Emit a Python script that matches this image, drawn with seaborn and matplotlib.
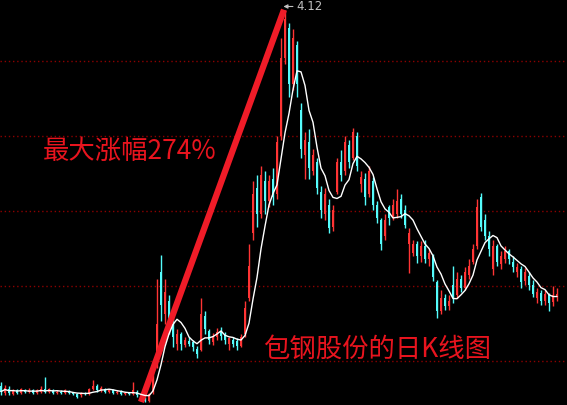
import numpy as np
import pandas as pd
import matplotlib
matplotlib.use('Agg')
import matplotlib.pyplot as plt
import seaborn as sns

# gaya gelap seperti software saham
sns.set_style('dark', {'axes.facecolor': 'black', 'figure.facecolor': 'black'})
plt.rcParams['font.family'] = ['Noto Sans CJK SC', 'DejaVu Sans']

# data K-line (harga harian)
opens = [1.22, 1.17, 1.20, 1.16, 1.19, 1.17, 1.19, 1.18, 1.19, 1.17,
         1.18, 1.20, 1.18, 1.19, 1.17, 1.18, 1.17, 1.18, 1.17, 1.16,
         1.15, 1.17, 1.16, 1.20, 1.22, 1.19, 1.20, 1.18, 1.19, 1.17,
         1.18, 1.16, 1.17, 1.16, 1.18, 1.14, 1.12, 1.11, 1.18, 1.38,
         2.10, 1.78, 1.88, 1.70, 1.55, 1.62, 1.54, 1.57, 1.56, 1.51,
         1.50, 1.76, 1.65, 1.56, 1.60, 1.64, 1.62, 1.55, 1.58, 1.57,
         1.53, 1.62, 1.90, 2.40, 2.75, 2.55, 2.80, 2.65, 2.82, 2.70,
         3.15, 3.75, 3.98, 3.55, 3.85, 3.35, 3.00, 3.10, 2.88, 2.95,
         2.72, 2.55, 2.62, 2.45, 2.72, 2.95, 2.88, 3.08, 2.98, 3.15,
         2.78, 2.82, 2.70, 2.80, 2.62, 2.50, 2.38, 2.60, 2.52, 2.55,
         2.66, 2.58, 2.32, 2.25, 2.32, 2.22, 2.30, 2.20, 2.22, 2.02,
         1.80, 1.90, 1.84, 2.00, 1.92, 2.05, 1.98, 2.08, 2.18, 2.30,
         2.68, 2.50, 2.38, 2.12, 2.30, 2.16, 2.20, 2.26, 2.18, 2.10,
         2.12, 2.03, 2.07, 2.00, 1.90, 1.94, 1.88, 1.92, 1.87, 1.91]
closes = [1.18, 1.21, 1.17, 1.19, 1.17, 1.20, 1.18, 1.19, 1.17, 1.19,
          1.20, 1.18, 1.20, 1.17, 1.18, 1.17, 1.19, 1.17, 1.16, 1.14,
          1.17, 1.16, 1.20, 1.22, 1.19, 1.21, 1.18, 1.19, 1.17, 1.18,
          1.16, 1.17, 1.16, 1.19, 1.15, 1.12, 1.11, 1.16, 1.38, 1.70,
          1.85, 1.95, 1.70, 1.60, 1.62, 1.55, 1.58, 1.55, 1.52, 1.47,
          1.78, 1.66, 1.58, 1.61, 1.64, 1.61, 1.58, 1.59, 1.55, 1.53,
          1.60, 1.82, 2.15, 2.70, 2.55, 2.85, 2.65, 2.80, 2.68, 3.10,
          3.75, 4.05, 3.55, 3.90, 3.55, 3.05, 3.12, 2.90, 3.00, 2.75,
          2.58, 2.70, 2.44, 2.58, 2.95, 2.85, 3.10, 2.95, 3.18, 2.92,
          2.83, 2.68, 2.88, 2.62, 2.52, 2.32, 2.50, 2.52, 2.62, 2.65,
          2.55, 2.46, 2.40, 2.32, 2.22, 2.30, 2.20, 2.25, 2.06, 1.80,
          1.90, 1.84, 1.88, 1.90, 2.05, 1.98, 2.10, 2.15, 2.28, 2.60,
          2.45, 2.38, 2.28, 2.30, 2.18, 2.22, 2.26, 2.20, 2.14, 2.14,
          2.02, 2.10, 2.00, 1.93, 1.95, 1.88, 1.93, 1.86, 1.92, 1.93]
highs = [1.25, 1.23, 1.22, 1.20, 1.20, 1.21, 1.20, 1.21, 1.20, 1.20,
         1.22, 1.29, 1.21, 1.20, 1.19, 1.19, 1.20, 1.19, 1.18, 1.17,
         1.18, 1.18, 1.21, 1.27, 1.24, 1.22, 1.21, 1.20, 1.20, 1.19,
         1.19, 1.18, 1.18, 1.25, 1.19, 1.15, 1.14, 1.17, 1.42, 2.05,
         2.23, 2.05, 1.92, 1.74, 1.66, 1.64, 1.60, 1.60, 1.58, 1.53,
         1.90, 1.80, 1.66, 1.63, 1.67, 1.68, 1.64, 1.60, 1.60, 1.59,
         1.62, 1.88, 2.32, 2.80, 2.85, 2.92, 2.88, 2.85, 2.90, 3.15,
         3.90, 4.12, 4.02, 3.97, 3.88, 3.40, 3.18, 3.20, 3.05, 2.98,
         2.76, 2.75, 2.66, 2.62, 2.98, 3.04, 3.15, 3.12, 3.21, 3.18,
         2.88, 2.86, 2.92, 2.83, 2.65, 2.52, 2.55, 2.62, 2.66, 2.74,
         2.70, 2.62, 2.44, 2.35, 2.34, 2.34, 2.35, 2.28, 2.24, 2.04,
         1.96, 1.93, 1.92, 2.15, 2.10, 2.08, 2.14, 2.20, 2.32, 2.66,
         2.71, 2.55, 2.42, 2.35, 2.32, 2.26, 2.30, 2.28, 2.22, 2.17,
         2.15, 2.13, 2.10, 2.04, 1.98, 1.96, 1.96, 1.94, 1.99, 1.98]
lows = [1.15, 1.15, 1.15, 1.15, 1.16, 1.16, 1.17, 1.17, 1.16, 1.16,
        1.17, 1.17, 1.17, 1.16, 1.16, 1.16, 1.16, 1.16, 1.15, 1.13,
        1.14, 1.15, 1.15, 1.19, 1.18, 1.18, 1.17, 1.17, 1.16, 1.16,
        1.15, 1.15, 1.15, 1.15, 1.14, 1.11, 1.10, 1.10, 1.16, 1.36,
        1.72, 1.70, 1.62, 1.52, 1.50, 1.50, 1.52, 1.53, 1.49, 1.44,
        1.49, 1.62, 1.55, 1.54, 1.58, 1.58, 1.55, 1.50, 1.52, 1.50,
        1.52, 1.60, 1.88, 2.35, 2.45, 2.52, 2.55, 2.60, 2.62, 2.66,
        3.12, 3.70, 3.45, 3.50, 3.45, 2.98, 2.82, 2.82, 2.85, 2.70,
        2.52, 2.50, 2.40, 2.42, 2.70, 2.80, 2.85, 2.90, 2.96, 2.88,
        2.72, 2.62, 2.68, 2.58, 2.48, 2.27, 2.35, 2.46, 2.50, 2.52,
        2.52, 2.44, 2.09, 2.22, 2.17, 2.18, 2.17, 2.15, 2.03, 1.75,
        1.78, 1.81, 1.81, 1.86, 1.90, 1.95, 1.96, 2.05, 2.16, 2.28,
        2.42, 2.35, 2.22, 2.08, 2.15, 2.12, 2.17, 2.16, 2.10, 2.06,
        1.98, 2.00, 1.96, 1.91, 1.86, 1.85, 1.85, 1.80, 1.84, 1.88]

grid_prices = [1.415, 1.993, 2.570, 3.148, 3.725]
trend_x = [35, 70.75]       # garis kenaikan dari titik terendah ke puncak
trend_y = [1.10, 4.12]
peak_label = '4.12'
title_text = '最大涨幅274%'
caption_text = '包钢股份的日K线图'

df = pd.DataFrame({'day': np.arange(len(closes)), 'open': opens, 'close': closes,
                   'high': highs, 'low': lows})
df['ma'] = df['close'].rolling(6, min_periods=1).mean()

fig = plt.figure(figsize=(5.67, 4.05), dpi=100)
ax = fig.add_axes([0, 0, 1, 1])
ax.set_facecolor('black')

for g in grid_prices:
    ax.axhline(g, color='#8c0000', lw=1, ls=(0, (1, 2)), zorder=0)

# candle: merah naik, cyan turun
up = df['close'] >= df['open']
colors = np.where(up, '#ff3434', '#54fcfc')
ax.vlines(df['day'], df['low'], df['high'], colors=colors, lw=1.0, zorder=2)
ax.bar(df['day'], (df['close'] - df['open']).abs().clip(lower=0.006),
       bottom=df[['open', 'close']].min(axis=1), width=0.65, color=colors,
       linewidth=0, zorder=2)

ax.plot(trend_x, trend_y, color='#f01c28', lw=4.5, solid_capstyle='butt', zorder=3)
sns.lineplot(data=df, x='day', y='ma', color='white', lw=1, ax=ax, zorder=4)

ax.annotate(peak_label, xy=(70.6, 4.145), xytext=(73.8, 4.145), color='#c0c0c0',
            fontsize=8.5, va='center', ha='left', family='DejaVu Sans',
            arrowprops=dict(arrowstyle='-|>', color='#c0c0c0', lw=0.8,
                            shrinkA=0, shrinkB=0, mutation_scale=6))

ax.text(0.076, 0.625, title_text, transform=ax.transAxes, color='#e8141e',
        fontsize=19, va='center', ha='left')
ax.text(0.464, 0.138, caption_text, transform=ax.transAxes, color='#e8141e',
        fontsize=19, va='center', ha='left')

ax.set_xlim(-0.25, 141.5)
ax.set_ylim(1.0765, 4.195)
ax.set_xticks([])
ax.set_yticks([])
ax.set_xlabel('')
ax.set_ylabel('')
ax.grid(False)
for s in ax.spines.values():
    s.set_visible(False)

fig.savefig('out.png', dpi=100, facecolor='black')
